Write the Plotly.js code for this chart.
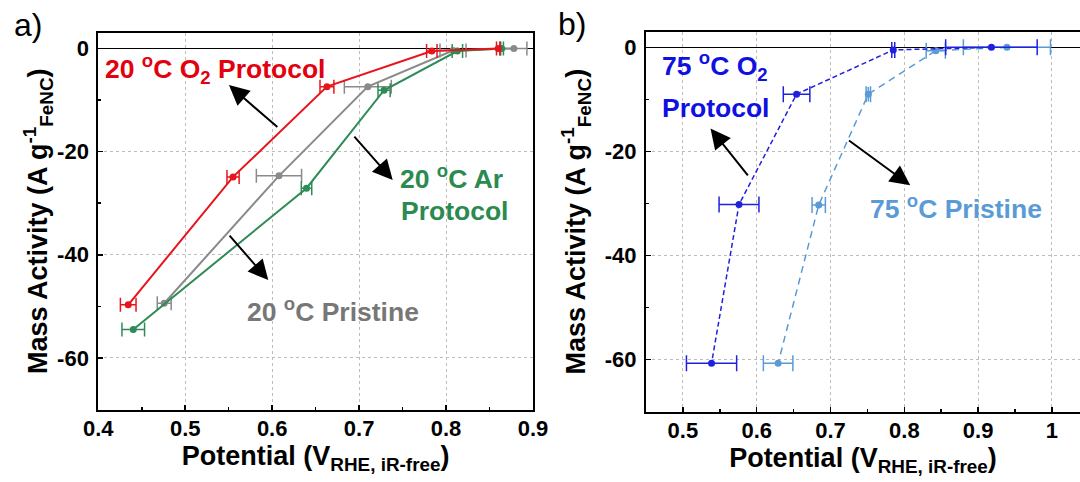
<!DOCTYPE html>
<html><head><meta charset="utf-8">
<script src="https://cdn.plot.ly/plotly-3.0.1.min.js"></script>
<style>html,body{margin:0;padding:0;background:#fff;overflow:hidden}#chart{width:1080px;height:482px}</style>
</head><body><div id="chart"></div>
<script>
// ---------- Panel a) 20 °C ----------
const o2X20 = [0.860, 0.7836, 0.663, 0.555, 0.4344];
const o2Y20 = [0, -0.5, -7.4, -24.9, -49.7];
const o2Err20 = [0.002, 0.006, 0.008, 0.007, 0.009];

const prX20 = [0.878, 0.808, 0.710, 0.6078, 0.4758];
const prY20 = [0, -0.4, -7.4, -24.7, -49.4];
const prErr20 = [0.015, 0.015, 0.027, 0.026, 0.008];

const arX20 = [0.864, 0.813, 0.7287, 0.6395, 0.4402];
const arY20 = [0, -0.5, -8.1, -27.1, -54.5];
const arErr20 = [0.002, 0.006, 0.007, 0.006, 0.013];

// ---------- Panel b) 75 °C ----------
const o2X75 = [0.918, 0.785, 0.654, 0.576, 0.5388];
const o2Y75 = [0, -0.5, -9.0, -30.2, -60.7];
const o2Err75 = [0.062, 0.002, 0.018, 0.027, 0.034];

const prX75 = [0.939, 0.8426, 0.7512, 0.684, 0.629];
const prY75 = [0, -0.65, -9.0, -30.3, -60.7];
const prErr75 = [0.059, 0.013, 0.003, 0.009, 0.020];
const prYErr75 = [0, 0, 1.4, 0, 0];

// ---------- Ticks ----------
const xTicksA = [0.4, 0.5, 0.6, 0.7, 0.8, 0.9];
const xTickTextA = ['0.4', '0.5', '0.6', '0.7', '0.8', '0.9'];
const xMinorA = [0.45, 0.55, 0.65, 0.75, 0.85];
const xTicksB = [0.5, 0.6, 0.7, 0.8, 0.9, 1.0];
const xTickTextB = ['0.5', '0.6', '0.7', '0.8', '0.9', '1'];
const xMinorB = [0.55, 0.65, 0.75, 0.85, 0.95];
const yTicks = [0, -20, -40, -60];
const yTickText = ['0', '-20', '-40', '-60'];
const yMinor = [-10, -30, -50];

const FONT = 'Liberation Sans, Arial, Helvetica, sans-serif';
const C = {red:'#e8141c', gray:'#8a8a8a', green:'#2e8b57', blue:'#2020dd', lblue:'#5b9bd5'};
const T = {red:'#e3000f', gray:'#777777', green:'#2b8a50', blue:'#1010e0', lblue:'#5b9bd5'};

function series(x, y, err, color, xa, ya, line, capw, yerr) {
  const tr = {
    x: x, y: y, xaxis: xa, yaxis: ya, type: 'scatter', mode: 'lines+markers',
    line: Object.assign({color: color, width: 2}, line || {}),
    marker: {color: color, size: 7, symbol: 'circle'},
    error_x: {type: 'data', array: err, visible: true, color: color, thickness: 1.5, width: capw},
    hoverinfo: 'skip'
  };
  if (yerr) tr.error_y = {type: 'data', array: yerr, visible: true, color: color, thickness: 1.5, width: 0};
  return tr;
}

const data = [
  series(prX20, prY20, prErr20, C.gray, 'x', 'y', null, 7),
  series(arX20, arY20, arErr20, C.green, 'x', 'y', null, 7),
  series(o2X20, o2Y20, o2Err20, C.red, 'x', 'y', null, 7),
  series(prX75, prY75, prErr75, C.lblue, 'x2', 'y2', {width: 1.5, dash: '7px,5px'}, 8, prYErr75),
  series(o2X75, o2Y75, o2Err75, C.blue, 'x2', 'y2', {width: 1.5, dash: '5px,3px'}, 8)
];

function xaxisDef(domain, range, tv, tt, minor, anchor, standoff) {
  return {
    domain: domain, range: range, anchor: anchor, automargin: false,
    tickmode: 'array', tickvals: tv, ticktext: tt,
    ticks: 'inside', ticklen: 5, tickwidth: 1.5, tickcolor: '#000',
    minor: {tickmode: 'array', tickvals: minor, ticks: 'inside', ticklen: 3, tickwidth: 1.5, tickcolor: '#000', showgrid: false},
    showline: true, linecolor: '#000', linewidth: 2, mirror: true,
    showgrid: true, gridcolor: '#bdbdbd', griddash: 'dot', gridwidth: 1,
    zeroline: false,
    tickfont: {family: FONT, size: 22, color: '#000', weight: 'bold'},
    ticklabelstandoff: -2,
    title: {text: '<b>Potential (V<sub>RHE, iR-free</sub>)</b>', font: {family: FONT, size: 27, color: '#000'}, standoff: standoff}
  };
}
function yaxisDef(domain, anchor, mirror, standoff) {
  return {
    domain: domain, range: [-70, 3], anchor: anchor, automargin: false,
    tickmode: 'array', tickvals: yTicks, ticktext: yTickText,
    ticks: 'inside', ticklen: 5, tickwidth: 1.5, tickcolor: '#000',
    minor: {tickmode: 'array', tickvals: yMinor, ticks: 'inside', ticklen: 3, tickwidth: 1.5, tickcolor: '#000', showgrid: false},
    showline: true, linecolor: '#000', linewidth: 2, mirror: mirror,
    showgrid: true, gridcolor: '#bdbdbd', griddash: 'dot', gridwidth: 1,
    zeroline: true, zerolinecolor: '#000', zerolinewidth: 1.5,
    tickfont: {family: FONT, size: 22, color: '#000', weight: 'bold'},
    ticklabelstandoff: 3,
    title: {text: '<b>Mass Activity (A g<sup>-1</sup><sub>FeNC</sub>)</b>', font: {family: FONT, size: 27, color: '#000'}, standoff: standoff}
  };
}

function label(text, x, y, xr, yr, color, xanchor) {
  return {text: '<b>' + text + '</b>', x: x, y: y, xref: xr, yref: yr, showarrow: false,
    xanchor: xanchor || 'center', yanchor: 'middle', font: {family: FONT, size: 26.5, color: color}};
}
function arrow(x, y, ax, ay, xr, yr) {
  return {text: '', x: x, y: y, ax: ax, ay: ay, xref: xr, yref: yr, axref: xr, ayref: yr,
    showarrow: true, arrowhead: 2, arrowsize: 2.0, arrowwidth: 2, arrowcolor: '#000', standoff: 0, startstandoff: 0};
}

const annotations = [
  label('20 <sup>o</sup>C O<sub>2</sub> Protocol', 0.4053, -4.0, 'x', 'y', T.red, 'left'),
  label('20 <sup>o</sup>C Ar', 0.8058, -24.9, 'x', 'y', T.green),
  label('Protocol', 0.8098, -31.5, 'x', 'y', T.green),
  label('20 <sup>o</sup>C Pristine', 0.6695, -50.7, 'x', 'y', T.gray),
  arrow(0.5503, -7.1, 0.6077, -15.5, 'x', 'y'),
  arrow(0.7386, -25.5, 0.693, -16.8, 'x', 'y'),
  arrow(0.5955, -44.9, 0.5495, -36.0, 'x', 'y'),
  label('75 <sup>o</sup>C O<sub>2</sub>', 0.469, -3.6, 'x2', 'y2', T.blue, 'left'),
  label('Protocol', 0.469, -11.6, 'x2', 'y2', T.blue, 'left'),
  label('75 <sup>o</sup>C Pristine', 0.870, -30.7, 'x2', 'y2', T.lblue),
  arrow(0.5374, -15.6, 0.5896, -24.9, 'x2', 'y2'),
  arrow(0.808, -26.5, 0.723, -17.7, 'x2', 'y2'),
  {text: 'a)', x: 28/1080, y: 1 - 25/482, xref: 'paper', yref: 'paper', showarrow: false,
   xanchor: 'center', yanchor: 'middle', font: {family: FONT, size: 32, color: '#000'}},
  {text: 'b)', x: 572/1080, y: 1 - 24/482, xref: 'paper', yref: 'paper', showarrow: false,
   xanchor: 'center', yanchor: 'middle', font: {family: FONT, size: 32, color: '#000'}}
];

const layout = {
  width: 1080, height: 482, margin: {l: 0, r: 0, t: 0, b: 0},
  paper_bgcolor: '#fff', plot_bgcolor: '#fff', showlegend: false,
  font: {family: FONT, color: '#000'},
  xaxis: xaxisDef([98.3/1080, 533/1080], [0.4, 0.9], xTicksA, xTickTextA, xMinorA, 'y', 2),
  yaxis: yaxisDef([(482-409.5)/482, (482-33)/482], 'x', true, 1),
  xaxis2: xaxisDef([646/1080, 1], [0.45, 1.038], xTicksB, xTickTextB, xMinorB, 'y2', 2),
  yaxis2: yaxisDef([(482-411.7)/482, (482-31.7)/482], 'x2', false, 11),
  annotations: annotations
};

Plotly.newPlot('chart', data, layout, {staticPlot: true, displayModeBar: false});
</script>
</body></html>
